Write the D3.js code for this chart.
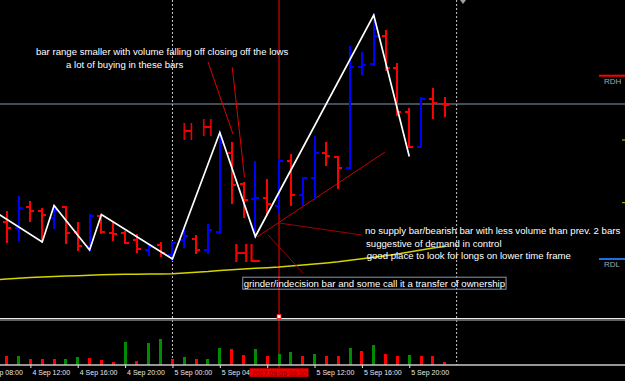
<!DOCTYPE html>
<html>
<head>
<meta charset="utf-8">
<title>H1 bars 4-5 Sep</title>
<script src="https://d3js.org/d3.v7.min.js"></script>
<style>
  html, body { margin:0; padding:0; background:#000; overflow:hidden; }
  svg { display:block; font-family:"Liberation Sans", Arial, sans-serif; }
  .note { fill:#fff; font-size:9.6px; }
  .axis text { fill:#e8e8e8; font-size:7px; }
  .axis line { stroke:#e8e8e8; }
</style>
</head>
<body>
<div id="chart"></div>
<script>
// hourly bars, 4 Sep 10:00 ... 5 Sep 23:00
var opens  = [108,102,123,119,112,123, 98, 84,114, 97, 97, 90, 80, 85, 75, 90, 91, 80, 98,177,146,131,132,124,169,135,152,177,173,162,263.5,266,294,262,218,183.5,231,226.5];
var highs  = [118,133,128,121,124.5,123,107,115,115.5,107,98.5,95,85,87.5,88,101,94,105,197,187,147,168,150,170,175,152,193.5,187,173,283,277.5,315,299,266,221,232,241,232];
var lows   = [ 88, 90,109, 88,102, 87, 80, 80, 97, 90, 87, 78, 75, 74,70.5,83,77.5,77, 97,127,113, 93,116,118,125,125,132,165,142,162,256.5,265,260,215,183,183,212,214];
var closes = [102,122,119,115,120, 97, 84,114, 98, 96,87.5,81, 83,77.5,87, 94, 80,100,187,145,130,132,126,169,135,152,177,174,162,263,265,294,262,218,183.5,231,227,225.5];
var volumes = [1250,1260,800,790,780,800,1100,950,650,400,3350,500,3200,3800,750,1100,750,760,2400,2300,1400,2300,1250,1600,1850,1250,1550,1200,1190,2450,2000,2950,1550,1250,1400,1250,1240,400];

// moving average (yellow), index -1 .. 37
var maIdx = [-1,0,1,2,3,4,5,6,7,8,9,10,11,12,13,14,15,16,17,18,19,20,21,22,23,24,25,26,27,28,29,30,31,32,33,34,35,36,37];
var maVal = [50.2,51,51.7,52.5,53,53.5,54,54.3,54.7,55.2,55.5,55.7,55.8,55.9,56,56.2,57,57.7,58.4,59.5,60.2,61,61.7,62.3,63,64,65,66,67,68.2,69.7,71.2,72.7,74.2,76,78,80,82,83.5];

// zigzag swing points
var zzIdx = [-1, 3, 4, 7, 8, 14, 18, 21, 31, 34];
var zzVal = [118.2, 88, 124.5, 80, 115.5, 71, 197.5, 93.5, 315, 173.5];

// time axis (the 08:00 label of 5 Sep sits under the crosshair box)
var tickIdx = [-2, 2, 6, 10, 14, 18, 22, 26, 30, 34];
var tickLabels = ["4 Sep 08:00","4 Sep 12:00","4 Sep 16:00","4 Sep 20:00","5 Sep 00:00","5 Sep 04:00","","5 Sep 12:00","5 Sep 16:00","5 Sep 20:00"];
var daySeps = [14, 38];

// crosshair
var crossIdx = 23, crossPrice = 226, crossLabel = "2017.09.05 09:30";

// hand drawn trend lines [idx1, price1, idx2, price2]
var trendLines = [
  [17.0, 268, 19.11, 196],
  [19.05, 262.7, 20.08, 153],
  [21.14, 93, 31.95, 178],
  [23.0, 107, 30.0, 95],
  [22.07, 95, 25.03, 57]
];
var trendColors = ["#e00000","#e00000","#c80000","#a00000","#a00000"];

// text notes
var noteText = [
  "bar range smaller with volume falling off closing off the lows",
  "a lot of buying in these bars",
  "no supply bar/bearish bar with less volume than prev. 2 bars",
  "suggestive of demand in control",
  "good place to look for longs on lower time frame",
  "grinder/indecision bar and some call it a transfer of ownership"
];
var noteIdx   = [2.47, 5.01, 30.26, 30.35, 30.4, 20.02];
var notePrice = [275, 261.7, 96, 83.3, 71, 43.3];
var noteBoxed = [false, false, false, false, false, true];

// swing labels
var swingText  = ["H", "H", "HL"];
var swingIdx   = [14.81, 16.45, 19.14];
var swingPrice = [190.5, 194, 68.3];

// levels at the right edge
var levelNames = ["RDH", "RDL"];
var levelPrice = [254.3, 71];
var levelColor = ["#ff0000", "#1e6ee6"];

var width = 625, height = 381;
var mainBottom = 318, volTop = 322, volBottom = 364.5;

var x = d3.scaleLinear().domain([0, 37]).range([6.7, 444.8]);
var y = d3.scaleLinear().domain([12, 330]).range([mainBottom, 0]);
var yv = d3.scaleLinear().domain([0, 6300]).range([volBottom, volTop]);

var svg = d3.select("#chart").append("svg")
    .attr("width", width).attr("height", height);

svg.append("rect").attr("width", width).attr("height", height).attr("fill", "#000");

var bars = d3.range(opens.length);

// day separators
svg.append("g").selectAll("line")
    .data(daySeps).enter().append("line")
    .attr("x1", d => x(d)).attr("x2", d => x(d))
    .attr("y1", 0).attr("y2", 365)
    .attr("stroke", "#c8c8c8")
    .attr("stroke-dasharray", "2,2");

// crosshair
svg.append("line")
    .attr("x1", 0).attr("x2", width)
    .attr("y1", y(crossPrice)).attr("y2", y(crossPrice))
    .attr("stroke", "#8898b0");
svg.append("line")
    .attr("x1", x(crossIdx)).attr("x2", x(crossIdx))
    .attr("y1", 0).attr("y2", 368)
    .attr("stroke", "#ff0000");

// moving average
var maLine = d3.line().x((d, i) => x(maIdx[i])).y(d => y(d));
svg.append("path").datum(maVal)
    .attr("d", maLine)
    .attr("fill", "none")
    .attr("stroke", "#d4d400")
    .attr("stroke-width", 1.5);

// trend lines
svg.append("g").selectAll("line")
    .data(trendLines).enter().append("line")
    .attr("x1", d => x(d[0])).attr("y1", d => y(d[1]))
    .attr("x2", d => x(d[2])).attr("y2", d => y(d[3]))
    .attr("stroke", (d, i) => trendColors[i])
    .attr("stroke-width", 1);

// OHLC bars
var barG = svg.append("g").attr("shape-rendering", "crispEdges");
var bar = barG.selectAll("g").data(bars).enter().append("g")
    .attr("stroke", i => closes[i] >= opens[i] ? "#0000ff" : "#ff0000")
    .attr("stroke-width", 2);
bar.append("line")
    .attr("x1", i => x(i)).attr("x2", i => x(i))
    .attr("y1", i => y(highs[i]) - 1).attr("y2", i => y(lows[i]) + 1);
bar.append("line")
    .attr("x1", i => x(i) - 4).attr("x2", i => x(i))
    .attr("y1", i => y(opens[i])).attr("y2", i => y(opens[i]));
bar.append("line")
    .attr("x1", i => x(i)).attr("x2", i => x(i) + 4)
    .attr("y1", i => y(closes[i])).attr("y2", i => y(closes[i]));

// zigzag
var zzLine = d3.line().x((d, i) => x(zzIdx[i])).y(d => y(d));
svg.append("path").datum(zzVal)
    .attr("d", zzLine)
    .attr("fill", "none")
    .attr("stroke", "#ffffff")
    .attr("stroke-width", 1.7);

// HH / HL
svg.append("g").selectAll("text")
    .data(swingText).enter().append("text")
    .attr("x", (d, i) => x(swingIdx[i]))
    .attr("y", (d, i) => y(swingPrice[i]))
    .attr("fill", "#ee0000")
    .attr("font-size", d => d == "HL" ? 25 : 23)
    .attr("textLength", d => d == "HL" ? 27 : 11)
    .attr("lengthAdjust", "spacingAndGlyphs")
    .text(d => d);

// notes
var notes = svg.append("g");
noteText.forEach(function(t, i) {
    var txt = notes.append("text")
        .attr("class", "note")
        .attr("x", x(noteIdx[i]))
        .attr("y", y(notePrice[i]))
        .text(t);
    if (noteBoxed[i]) {
        var b = txt.node().getBBox();
        notes.insert("rect", "text")
            .attr("x", b.x - 1).attr("y", b.y - 0.5)
            .attr("width", b.width + 2).attr("height", b.height + 1)
            .attr("fill", "none")
            .attr("stroke", "#8898b0");
    }
});

// right edge levels
var lv = svg.append("g");
levelNames.forEach(function(n, i) {
    lv.append("line")
        .attr("x1", 599).attr("x2", width)
        .attr("y1", y(levelPrice[i])).attr("y2", y(levelPrice[i]))
        .attr("stroke", levelColor[i]).attr("stroke-width", 2);
    lv.append("text")
        .attr("x", 604).attr("y", y(levelPrice[i]) + 8)
        .attr("fill", "#a0a8b0").attr("font-size", 8)
        .text(n);
});
lv.selectAll("line.yt").data([190, 127.3]).enter().append("line")
    .attr("class", "yt")
    .attr("x1", 622).attr("x2", width)
    .attr("y1", d => y(d)).attr("y2", d => y(d))
    .attr("stroke", "#c8c800").attr("stroke-width", 1);

// chart shift marker
svg.append("path").attr("d", "M460,0L466,0L463,4Z").attr("fill", "#a0a0a0");

// panel separator
svg.append("line").attr("x1", 0).attr("x2", width).attr("y1", 318.5).attr("y2", 318.5)
    .attr("stroke", "#e8e8e8");
svg.append("line").attr("x1", 0).attr("x2", width).attr("y1", 320).attr("y2", 320)
    .attr("stroke", "#808080").attr("stroke-width", 1.5);
svg.append("rect")
    .attr("x", x(crossIdx) - 2).attr("y", 314.5).attr("width", 4).attr("height", 4)
    .attr("fill", "#fff").attr("stroke", "#ff0000").attr("stroke-width", 0.8);

// volumes
svg.append("g").attr("shape-rendering", "crispEdges")
    .selectAll("rect").data(bars).enter().append("rect")
    .attr("x", i => x(i) - 1.5)
    .attr("width", 3)
    .attr("y", i => yv(volumes[i]))
    .attr("height", i => yv(0) - yv(volumes[i]))
    .attr("fill", i => (i > 0 && volumes[i] > volumes[i - 1]) ? "#008c00" : "#ff0000");

// time axis
var axis = d3.axisBottom(x)
    .tickValues(tickIdx)
    .tickFormat((d, i) => tickLabels[i])
    .tickSize(3)
    .tickSizeOuter(0);
var ax = svg.append("g").attr("class", "axis")
    .attr("transform", "translate(0,365)")
    .call(axis);
ax.select(".domain").remove();
ax.selectAll("text").attr("text-anchor", "start").attr("x", 1.5).attr("y", 5);
svg.append("line").attr("x1", 0).attr("x2", width).attr("y1", 365).attr("y2", 365)
    .attr("stroke", "#c8c8c8").attr("stroke-width", 1.5);

// crosshair time label
var lbl = svg.append("g");
lbl.append("rect")
    .attr("x", x(crossIdx) - 29.5).attr("y", 368.3)
    .attr("width", 59).attr("height", 8.5)
    .attr("fill", "#ee0000");
lbl.append("text")
    .attr("x", x(crossIdx)).attr("y", 375.5)
    .attr("text-anchor", "middle")
    .attr("fill", "#7a0000").attr("font-size", 7)
    .text(crossLabel);
</script>
</body>
</html>
